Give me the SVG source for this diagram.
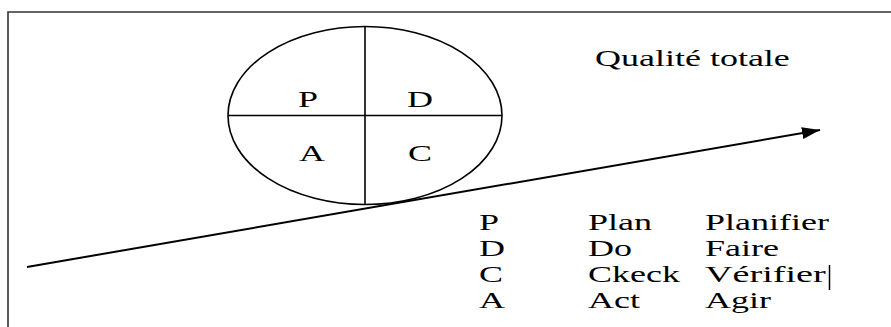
<svg xmlns="http://www.w3.org/2000/svg" width="891" height="327" viewBox="0 0 891 327">
  <style>
    .t { font-family: "Liberation Serif", "Times New Roman", serif; font-size: 24px; fill: #000; }
    .frame { fill: none; stroke: #333; stroke-width: 1.6; }
    .shape { fill: none; stroke: #000; stroke-width: 1.6; }
    .conn { fill: none; stroke: #000; stroke-width: 2; }
  </style>
  <defs>
    <marker id="arrow" markerUnits="userSpaceOnUse" markerWidth="20" markerHeight="14" refX="18" refY="6" orient="auto">
      <path d="M0,0 L18,6 L0,12 z" fill="#000"/>
    </marker>
  </defs>
  <rect width="891" height="327" fill="#fff"/>
  <path class="frame" d="M8,327 V12 H891"/>

  <g id="pdca-wheel">
    <ellipse class="shape" cx="365" cy="115.5" rx="137" ry="89"/>
    <line class="shape" x1="365" y1="26.5" x2="365" y2="204.5"/>
    <line class="shape" x1="228" y1="115.5" x2="502" y2="115.5"/>
    <text class="t" transform="translate(298,107) scale(1.5,1)">P</text>
    <text class="t" transform="translate(407,107) scale(1.5,1)">D</text>
    <text class="t" transform="translate(299,161) scale(1.5,1)">A</text>
    <text class="t" transform="translate(408,161) scale(1.5,1)">C</text>
  </g>

  <g id="title">
    <text class="t" transform="translate(595,66) scale(1.5,1)">Qualité totale</text>
  </g>

  <g id="connectors">
    <line class="conn" x1="27" y1="267" x2="820" y2="130" marker-end="url(#arrow)"/>
  </g>

  <g id="legend">
    <text class="t" transform="translate(479,230) scale(1.5,1)">P</text>
    <text class="t" transform="translate(588,230) scale(1.5,1)">Plan</text>
    <text class="t" transform="translate(705,230) scale(1.5,1)">Planifier</text>
    <text class="t" transform="translate(479,256) scale(1.5,1)">D</text>
    <text class="t" transform="translate(588,256) scale(1.5,1)">Do</text>
    <text class="t" transform="translate(705,256) scale(1.5,1)">Faire</text>
    <text class="t" transform="translate(479,282) scale(1.5,1)">C</text>
    <text class="t" transform="translate(588,282) scale(1.5,1)">Ckeck</text>
    <text class="t" transform="translate(705,282) scale(1.5,1)" textLength="80.5" lengthAdjust="spacingAndGlyphs">Vérifier</text>
    <line x1="829.5" y1="265" x2="829.5" y2="290" stroke="#000" stroke-width="1.5"/>
    <text class="t" transform="translate(479,308) scale(1.5,1)">A</text>
    <text class="t" transform="translate(588,308) scale(1.5,1)">Act</text>
    <text class="t" transform="translate(705,308) scale(1.5,1)">Agir</text>
  </g>
</svg>
